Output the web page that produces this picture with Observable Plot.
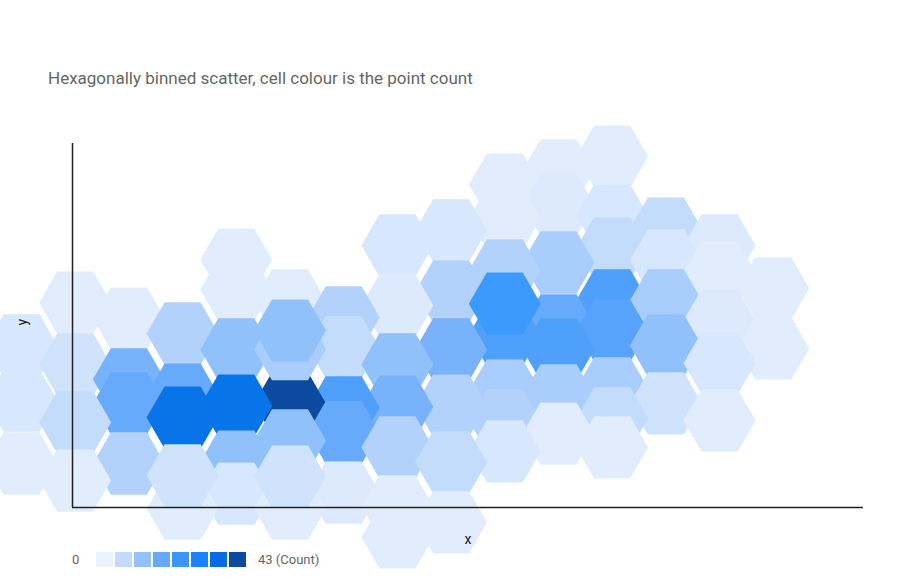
<!DOCTYPE html>
<html>
<head>
<meta charset="utf-8">
<script src="https://cdn.jsdelivr.net/npm/d3@7"></script>
<script src="https://cdn.jsdelivr.net/npm/@observablehq/plot@0.6"></script>
<style>
  html, body { margin: 0; padding: 0; background: #fff; }
  #wrap { position: relative; width: 900px; height: 580px; overflow: hidden; font-family: Roboto, "Noto Sans", sans-serif; }
  #title { position: absolute; left: 48px; top: 68px; font-size: 17px; line-height: 20px; color: #666; white-space: nowrap; }
  #chart { position: absolute; left: 0; top: 110px; }
  #legend { position: absolute; left: 72px; top: 552px; display: flex; align-items: center; font-size: 13px; color: #666; height: 15px; }
  #legend .lo { width: 22px; }
  #legend .hi { margin-left: 10px; }
</style>
</head>
<body>
<div id="wrap">
  <div id="title">Hexagonally binned scatter, cell colour is the point count</div>
  <div id="chart"></div>
  <div id="legend"><span class="lo">0</span><span id="swatches"></span><span class="hi">43 (Count)</span></div>
</div>
<script>
// Hexagon bins (column index, y centre, point count), listed in drawing order
const binX = [10, 9, 8, 9, 10, 8, 11, 7, 6, 12, 10, 3, 11, 9, 8, 12, 13, 3, 7, 4, 10, 11, 0, 6, 5, 1, 12, 9, 10, 2, 8, -1, 11, 5, 13, 3, 7, 9, 8, 12, 0, 6, 1, 10, 8, 2, 9, -1, 1, 11, 7, 6, 5, 4, 4, 4, 3, 2, 10, 8, 12, 0, 5, 9, 4, 6, 10, 8, 3, 7, 1, -1, 0, 5, 3, 6, 2, 4, 2, 4, 7, 6];
const binY = [9.64, 9.26, 8.87, 8.32, 8.02, 7.94, 7.66, 7.61, 7.20, 7.20, 7.12, 6.81, 6.79, 6.73, 6.51, 6.46, 6.02, 5.99, 5.93, 5.69, 5.69, 5.69, 5.63, 5.55, 5.22, 5.19, 5.14, 5.00, 4.86, 4.78, 4.75, 4.45, 4.45, 4.40, 4.37, 4.34, 4.34, 4.34, 5.60, 3.96, 3.93, 3.93, 3.52, 3.27, 3.21, 3.10, 3.08, 2.94, 2.86, 2.86, 2.80, 2.77, 2.75, 2.86, 4.35, 4.86, 2.80, 2.47, 2.45, 2.39, 2.39, 2.34, 2.06, 2.03, 1.84, 1.65, 1.65, 1.54, 1.26, 1.24, 1.21, 1.21, 0.74, 0.41, 0.38, 0.03, -0.03, -0.03, 0.88, 0.85, -0.41, -0.82];
const binCount = [1, 1, 1, 2, 3, 1, 5, 3, 3, 2, 5, 1, 3, 8, 7, 1, 1, 1, 7, 1, 18, 8, 1, 2, 7, 1, 2, 15, 17, 7, 18, 3, 10, 5, 1, 10, 13, 18, 21, 3, 4, 10, 13, 8, 8, 15, 8, 3, 15, 4, 7, 13, 18, 43, 8, 10, 33, 33, 5, 7, 1, 5, 15, 1, 10, 7, 1, 3, 10, 5, 7, 1, 1, 2, 3, 1, 1, 1, 4, 4, 1, 1];

// Colour ramp (count stops -> colours)
const countStops = [1, 2, 3, 4, 5, 7, 8, 10, 13, 15, 18, 21, 33, 43];
const countColors = ["#e1edfd", "#dde9fd", "#d7e7fd", "#cfe3fc", "#c4dcfc", "#b2d2fc", "#a9cdfc", "#91c1fb", "#78b2fb", "#67aafb", "#4fa0fb", "#3c9afc", "#0874ea", "#0b4a9e"];

// Legend swatches
const legendColors = ["#ebf3fe", "#c2dbfc", "#93c1fb", "#66a9fb", "#3c95fb", "#1a82fb", "#0a6ae6", "#0b4a9e"];

const bins = binX.map((x, i) => ({x, y: binY[i], count: binCount[i]}));

// flat-top hexagon symbol
const flatHex = {
  draw(context, size) {
    const R = Math.sqrt(size / Math.PI);
    for (let i = 0; i < 6; i++) {
      const a = Math.PI / 3 * i;
      const px = R * Math.cos(a), py = R * Math.sin(a);
      if (i === 0) context.moveTo(px, py); else context.lineTo(px, py);
    }
    context.closePath();
  }
};

const chart = Plot.plot({
  width: 900,
  height: 470,
  marginTop: 33,
  marginBottom: 73,
  marginLeft: 72,
  marginRight: 37,
  style: {fontFamily: "Roboto, 'Noto Sans', sans-serif", fontSize: "14px", color: "#222", overflow: "visible", background: "transparent"},
  x: {domain: [-0.05, 14.68], axis: null},
  y: {domain: [0, 10], axis: null},
  color: {type: "linear", domain: countStops, range: countColors, interpolate: "rgb"},
  marks: [
    Plot.dot(bins, {x: "x", y: "y", fill: "count", r: 36, symbol: flatHex, stroke: "none"}),
    Plot.ruleX([-0.05], {y1: 0, y2: 10, stroke: "#222", strokeWidth: 1.5}),
    Plot.ruleY([0], {x1: -0.05, x2: 14.68, stroke: "#222", strokeWidth: 1.5}),
    Plot.text(["x"], {frameAnchor: "bottom", dy: 36, fill: "#222", fontSize: 14}),
    Plot.text(["y"], {frameAnchor: "left", dx: -50, rotate: -90, fill: "#222", fontSize: 14})
  ]
});
document.getElementById("chart").appendChild(chart);

const sw = Plot.plot({
  width: 154,
  height: 15,
  margin: 0,
  style: {background: "transparent"},
  x: {type: "band", domain: d3.range(legendColors.length), padding: 0.1, axis: null},
  marks: [
    Plot.cell(legendColors, {x: (d, i) => i, fill: (d) => d})
  ]
});
document.getElementById("swatches").appendChild(sw);
</script>
</body>
</html>
